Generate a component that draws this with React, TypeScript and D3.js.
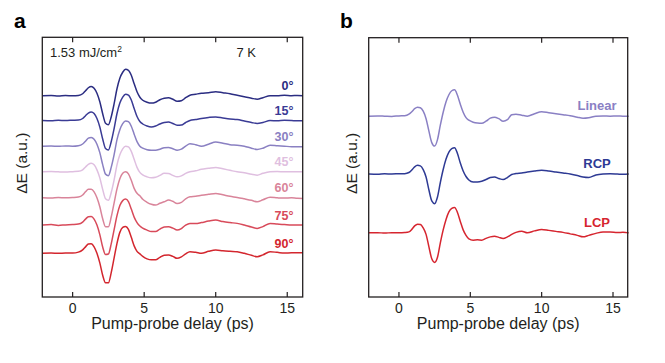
import React from 'react';
import * as d3 from 'd3';

// Pump-probe delay grid (ps)
const delays = [-2.1, -1.5, -1.0, -0.5, 0, 0.4, 0.7, 0.9, 1.1, 1.3, 1.5, 1.7, 1.9, 2.1, 2.3, 2.5, 2.7, 2.9, 3.1, 3.3, 3.5, 3.7, 3.9, 4.1, 4.3, 4.5, 4.7, 4.9, 5.2, 5.5, 5.8, 6.1, 6.4, 6.7, 7.0, 7.3, 7.6, 7.9, 8.2, 8.6, 9.0, 9.5, 10.0, 10.5, 11.0, 11.5, 12.0, 12.5, 12.9, 13.3, 13.8, 14.3, 14.8, 15.3, 15.7, 16.1];

// Panel a: polarization angle series (ΔE, a.u., relative to each trace's offset)
const angle0 = [0, 0.3, -0.2, 0.2, 0, 0.3, 2, 5, 8, 9.3, 7.5, 2.5, -6, -18, -27.5, -29, -21, -8, 7, 17.5, 23.5, 26.5, 25.5, 20.5, 12, 4, -1.5, -4.5, -6.5, -7.4, -6.5, -4, -2.5, -2, -3.5, -5.5, -5, -2, 0.5, 1.5, 2.5, 3, 4, 3, 2, 0.5, -1, -2.5, -3.5, -2, 0, 0, 0.5, 0, 0.3, 0];
const angle15 = [0, -0.3, 0.2, 0, 0.3, 0.5, 2, 4.8, 7.5, 8.6, 7, 2, -6.5, -18.5, -28, -29.5, -21, -8, 7, 17.5, 23.5, 26.4, 25.5, 20.5, 12, 4, -1, -3.5, -5.5, -6.4, -5.5, -3.5, -2, -1.4, -3, -4.7, -4.5, -2, 0, 1, 2, 3, 3.6, 2.5, 1.5, 1, -0.5, -2, -3, -2, 0, -0.3, 0.2, 0, -0.3, -0.3];
const angle30 = [0, 0.2, -0.2, 0.3, 0, 0.5, 2.2, 5, 8, 8.8, 7, 2, -6.5, -18.5, -28, -29.5, -21, -8.5, 6.5, 16.5, 22.5, 25.3, 24.5, 20, 12, 4.5, 0, -2, -3.5, -4, -4, -3, -1.5, -1.3, -2.5, -4, -3, 0, 2.5, 1.5, 0, 2, 4.3, 3, 1.5, 1, 0, -2, -3.3, -2, 1, 0.5, 0, -0.5, -0.5, -0.7];
const angle45 = [0, 0.3, 0, -0.2, 0.2, 0.5, 2, 4.8, 7.5, 8.5, 7, 2, -6, -17.5, -27, -28.5, -20.5, -8, 7, 17, 23, 25.7, 25, 20.5, 12.5, 4.5, -0.5, -3, -5, -6, -5.5, -3.5, -1.5, -1.6, -3.5, -5, -4, -1.5, 0, 1, 2.5, 3.5, 4.4, 3, 1.5, 0, -1, -2.5, -3.3, -1.5, 0, 0.3, 0, 0.2, 0, 0];
const angle60 = [0, -0.2, 0.3, 0, 0.3, 0.8, 2.8, 6, 8.5, 8.6, 6, 0, -9, -21, -29, -29, -19, -5, 9, 19, 24.5, 26, 24, 17.5, 9.5, 4.5, 2, -1.5, -4.5, -6.5, -7.3, -5.5, -4, -2.3, -3.5, -5.6, -4.5, -1, 1, 1.5, 2.5, 3.5, 4.4, 3, 1.5, 0.4, -1, -2.5, -4, -2, 0.5, 0, -0.3, 0, -0.5, -0.6];
const angle75 = [0, 0.5, -0.3, 0.2, 0.5, 1, 3, 6, 8.3, 8.6, 6, 0, -9.5, -22, -29.5, -29, -18.5, -4.5, 9.5, 19.5, 24.5, 26, 23.5, 16, 8, 2.5, -1, -3, -5, -6.5, -6.5, -4, -2, -1.7, -3, -5, -3.5, 0, 1.7, 1.5, 2.5, 4, 5, 3.5, 2.5, 1.7, 0, -2, -3.3, -1.5, 1.7, 1, 0.5, 0, 0, 0];
const angle90 = [0, 0.3, 0, 0.4, 0.3, 1.2, 3.5, 6.5, 9.3, 9.5, 6.5, 0, -9.5, -22, -29.5, -29.5, -19, -4.5, 10, 21, 26, 27, 24, 16, 7.5, 2, -0.5, -3, -5.5, -6.5, -6.5, -4, -2, -1.7, -3, -5, -3.5, -0.5, 1.6, 1, 0, 2, 3.3, 2.5, 2, 1.6, 0, -2, -3.4, -1.5, 1.6, 1, 0.3, 0.5, 0.5, 0.6];

const angleSeries = [angle0, angle15, angle30, angle45, angle60, angle75, angle90];
const angleLabels = ['0°', '15°', '30°', '45°', '60°', '75°', '90°'];
const angleOffsets = [201.5, 176.7, 151, 125.3, 99.3, 72, 43.7];
const angleColors = ['#2b2d82', '#3a3b95', '#8a80c2', '#dfbfe0', '#d9849a', '#d84a5a', '#d3262e'];

// Panel b: pump polarization series
const linear = [0, 0.2, 0, -0.2, 0.3, 0.5, 2, 4.5, 7.5, 9, 8.5, 5, -2.5, -15, -26.5, -30, -23.5, -9, 4, 14.5, 21.5, 25.5, 26.5, 21, 12, 4, -1.5, -4, -6, -6.8, -7, -5, -2, -1, -2.5, -5, -3.5, 1.5, 2, 1, 0, 2.5, 4.5, 3.5, 2.5, 1.5, 0.5, -1, -2, -1.5, 0, 0.3, 0, 0.2, 0, 0];
const rcp = [0, -0.3, 0.2, 0, 0.3, 0.4, 1.5, 4, 7.2, 8.7, 8.2, 4.5, -3, -16, -27, -29.7, -23, -8.5, 4.5, 15, 22, 25.5, 26.4, 20.5, 11, 3, -2.5, -6, -8, -8, -7.3, -5.5, -3.5, -3, -4.5, -5.6, -3.5, -0.5, 0.5, 1, 2, 3, 3.7, 3, 2, 1, 0, -1.5, -3, -3.5, -1, 0, 0.3, 0, -0.3, 0];
const lcp = [0, 0.2, -0.2, 0.2, 0, 0.3, 1, 3.5, 7, 8.7, 8.5, 5, -1.5, -14, -26, -29.6, -24.5, -10, 3, 13.5, 21, 24.5, 25.4, 20.5, 11.5, 3, -2.5, -6, -7.3, -7, -7.3, -5.5, -4, -3.3, -4.5, -5.6, -4, -1.5, 0.5, 1.7, 0, 2, 3.4, 2.5, 1.5, 0.5, -1, -2.5, -4, -2.5, -0.5, 1, 1, 0.3, 0.5, 0];

const polSeries = [linear, rcp, lcp];
const polLabels = ['Linear', 'RCP', 'LCP'];
const polOffsets = [181.3, 123.3, 64.3];
const polColors = ['#8a80c4', '#2e3a94', '#d6252f'];

const xTicks = [0, 5, 10, 15];

const FONT = 'Liberation Sans, Arial, Helvetica, sans-serif';
const AXIS = '#231f20';

type PanelProps = {
  left: number;
  right: number;
  top: number;
  bottom: number;
  xDomain: [number, number];
  series: number[][];
  offsets: number[];
  colors: string[];
  labels: string[];
  labelX: number;
  labelAnchor: 'end' | 'middle';
  labelSize: number;
  labelGap: number;
  yTitleX: number;
  letter: string;
  letterX: number;
};

function Panel(p: PanelProps) {
  const x = d3.scaleLinear().domain(p.xDomain).range([p.left, p.right]);
  const y = d3.scaleLinear().domain([0, 260]).range([p.bottom, p.top]);
  const midX = (p.left + p.right) / 2;
  return (
    <g>
      {p.series.map((s, i) => {
        const line = d3
          .line<number>()
          .x((_, j) => x(delays[j]))
          .y((v) => y(v + p.offsets[i]))
          .curve(d3.curveMonotoneX);
        return (
          <path key={'l' + i} d={line(s) || ''} fill="none" stroke={p.colors[i]} strokeWidth={1.5} strokeLinejoin="round" />
        );
      })}
      {p.labels.map((lab, i) => (
        <text
          key={'t' + i}
          x={p.labelX}
          y={y(p.offsets[i]) - p.labelGap}
          textAnchor={p.labelAnchor}
          fontSize={p.labelSize}
          fontWeight="bold"
          fill={p.colors[i]}
          fontFamily={FONT}
        >
          {lab}
        </text>
      ))}
      <rect x={p.left} y={p.top} width={p.right - p.left} height={p.bottom - p.top} fill="none" stroke={AXIS} strokeWidth={1.3} />
      {xTicks.map((t) => (
        <g key={'k' + t}>
          <line x1={x(t)} x2={x(t)} y1={p.bottom} y2={p.bottom - 5} stroke={AXIS} strokeWidth={1.2} />
          <line x1={x(t)} x2={x(t)} y1={p.top} y2={p.top + 5} stroke={AXIS} strokeWidth={1.2} />
          <text x={x(t)} y={p.bottom + 15.5} textAnchor="middle" fontSize={14} fill={AXIS} fontFamily={FONT}>
            {t}
          </text>
        </g>
      ))}
      <text x={midX} y={p.bottom + 32} textAnchor="middle" fontSize={16} fill={AXIS} fontFamily={FONT}>
        Pump-probe delay (ps)
      </text>
      <text
        transform={`translate(${p.yTitleX},${(p.top + p.bottom) / 2 - 4}) rotate(-90)`}
        textAnchor="middle"
        fontSize={15.5}
        fill={AXIS}
        fontFamily={FONT}
      >
        ΔE (a.u.)
      </text>
      <text x={p.letterX} y={28} fontSize={21} fontWeight="bold" fill="#000" fontFamily={FONT}>
        {p.letter}
      </text>
    </g>
  );
}

export default function App() {
  return (
    <svg
      width={665}
      height={363}
      viewBox="0 0 665 363"
      style={{ position: 'absolute', left: 0, top: 0, background: '#fff' }}
    >
      <rect x={0} y={0} width={665} height={363} fill="#fff" />
      <Panel
        left={42.3}
        right={302.7}
        top={37.3}
        bottom={297}
        xDomain={[-2.12, 16.08]}
        series={angleSeries}
        offsets={angleOffsets}
        colors={angleColors}
        labels={angleLabels}
        labelX={293.5}
        labelAnchor="end"
        labelSize={12.5}
        labelGap={5.5}
        yTitleX={27}
        letter="a"
        letterX={14}
      />
      <text x={50} y={57.3} fontSize={13} fill={AXIS} fontFamily={FONT}>
        1.53 mJ/cm
        <tspan fontSize={8.5} dy={-5.5}>2</tspan>
      </text>
      <text x={236.5} y={57.3} fontSize={13} fill={AXIS} fontFamily={FONT}>
        7 K
      </text>
      <Panel
        left={368.7}
        right={627.7}
        top={37.7}
        bottom={297}
        xDomain={[-2.12, 16.03]}
        series={polSeries}
        offsets={polOffsets}
        colors={polColors}
        labels={polLabels}
        labelX={597}
        labelAnchor="middle"
        labelSize={13}
        labelGap={6}
        yTitleX={357}
        letter="b"
        letterX={340}
      />
    </svg>
  );
}
